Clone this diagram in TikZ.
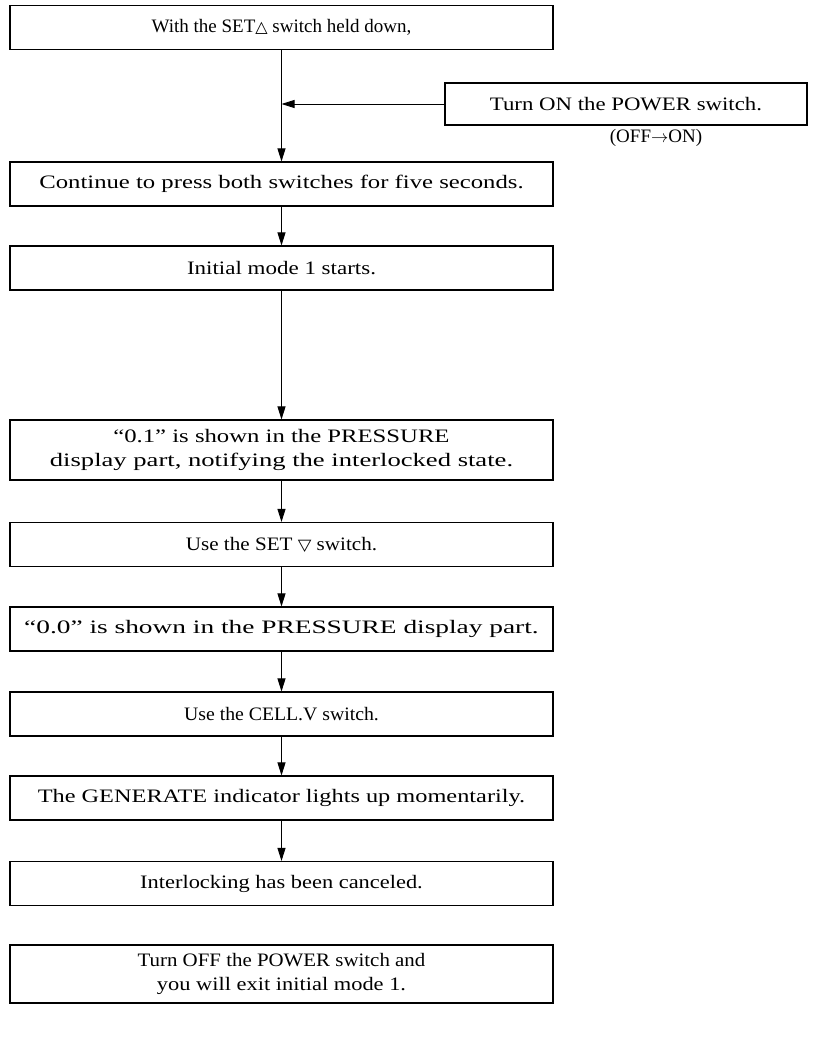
\documentclass[tikz,border=0pt]{standalone}
\usepackage{graphicx}
\usepackage{fontspec}
\setmainfont{Liberation Serif}
\newfontfamily\symf{DejaVu Sans}
\usetikzlibrary{arrows.meta}
\newcommand\sx[2]{\scalebox{#1}[1]{#2}}
\begin{document}
\begin{tikzpicture}[x=1pt,y=-1pt,
  box/.style={draw, line width=1.1pt, minimum width=543pt, minimum height=44pt, inner sep=0pt, align=center, font=\fontsize{19}{24}\selectfont},
  sidebox/.style={draw, line width=1.1pt, minimum width=362pt, minimum height=42pt, inner sep=0pt, align=center, font=\fontsize{19}{24}\selectfont},
  flow/.style={line width=0.9pt, -{Triangle[length=13pt,width=8pt]}},
  plain/.style={line width=0.9pt}]
\useasboundingbox (0,0) rectangle (816,1043);
\node[box] (b1) at (281.5,27.5) {With the SET{\symf\fontsize{16}{20}\selectfont △} switch held down,};
\node[sidebox] (b2) at (626,104) {\sx{1.2}{Turn ON the POWER switch.}};
\node[font=\fontsize{19}{24}\selectfont] (lbl) at (656,138) {(OFF$\rightarrow$ON)};
\node[box] (b3) at (281.5,184) {\sx{1.3}{Continue to press both switches for five seconds.}};
\node[box] (b4) at (281.5,268) {\sx{1.21}{Initial mode 1 starts.}};
\node[box, minimum height=60pt] (b5) at (281.5,450) {\sx{1.3}{``0.1'' is shown in the PRESSURE}\\\sx{1.4}{display part, notifying the interlocked state.}};
\node[box] (b6) at (281.5,544.5) {\sx{1.11}{Use the SET {\symf\fontsize{16}{20}\selectfont ▽} switch.}};
\node[box] (b7) at (281.5,629) {\sx{1.44}{``0.0'' is shown in the PRESSURE display part.}};
\node[box] (b8) at (281.5,714) {\sx{1.04}{Use the CELL.V switch.}};
\node[box] (b9) at (281.5,798) {\sx{1.28}{The GENERATE indicator lights up momentarily.}};
\node[box] (b10) at (281.5,883.5) {\sx{1.18}{Interlocking has been canceled.}};
\node[box, minimum height=58pt] (b11) at (281.5,974) {\sx{1.1}{Turn OFF the POWER switch and}\\\sx{1.18}{you will exit initial mode 1.}};
\coordinate (j) at (b1.south |- b2.west);
\draw[plain] (b1.south) -- (j);
\draw[flow] (b2.west) -- (j);
\draw[flow] (j) -- (b3.north);
\draw[flow] (b3.south) -- (b4.north);
\draw[flow] (b4.south) -- (b5.north);
\draw[flow] (b5.south) -- (b6.north);
\draw[flow] (b6.south) -- (b7.north);
\draw[flow] (b7.south) -- (b8.north);
\draw[flow] (b8.south) -- (b9.north);
\draw[flow] (b9.south) -- (b10.north);
\end{tikzpicture}
\end{document}
